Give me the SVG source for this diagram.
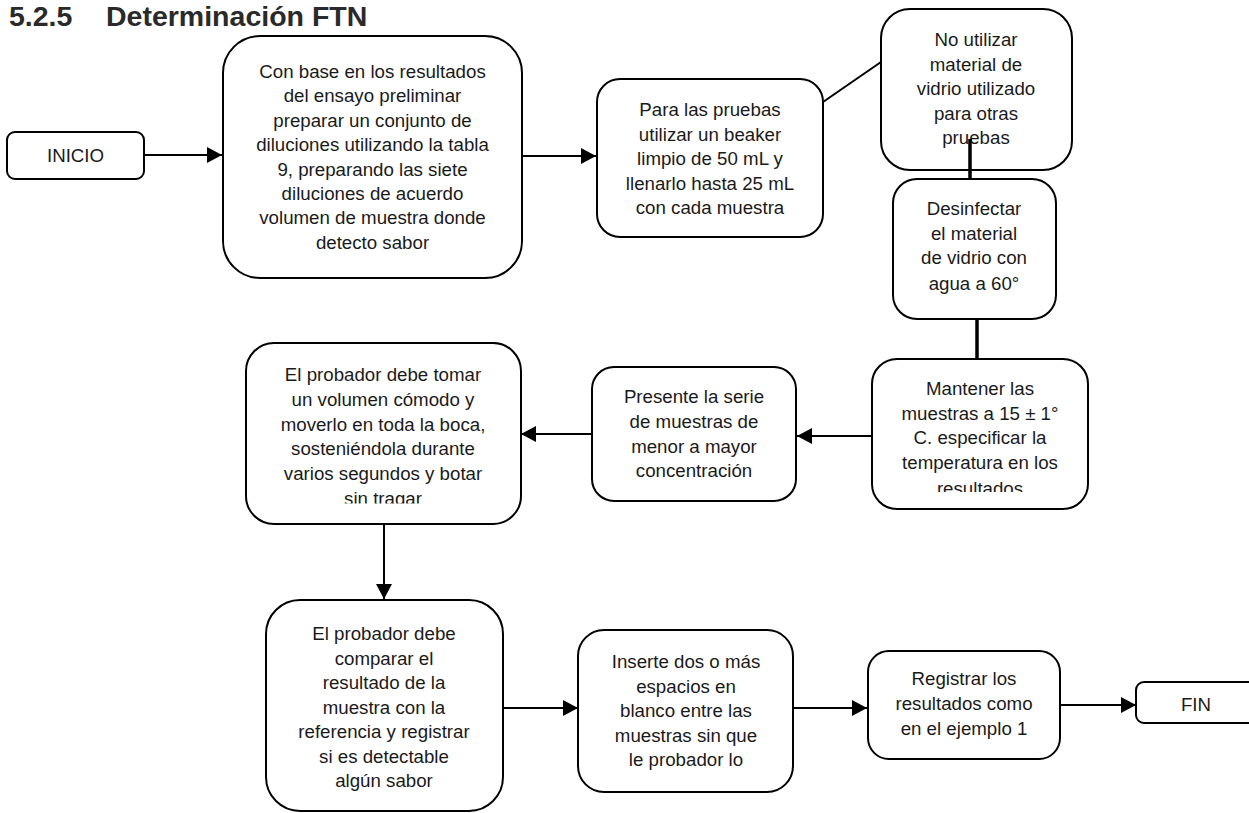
<svg xmlns="http://www.w3.org/2000/svg" width="1249" height="813" viewBox="0 0 1249 813">
<style>
.box{fill:#fff;stroke:#000;stroke-width:2}
.t{font-family:"Liberation Sans",Arial,sans-serif;font-size:18.7px;fill:#1a1a1a;text-anchor:middle}
.title{font-family:"Liberation Sans",Arial,sans-serif;font-size:28.5px;font-weight:bold;fill:#2a2a2a}
.c{stroke:#000;stroke-width:2;fill:none}
.ct{stroke:#000;stroke-width:3.5;fill:none}
</style>
<defs>
<marker id="ah" markerUnits="userSpaceOnUse" markerWidth="16" markerHeight="16" refX="15" refY="8" orient="auto">
<path d="M0,0 L15,8 L0,16 z" fill="#000"/>
</marker>
<clipPath id="clipM"><rect x="860" y="350" width="240" height="142"/></clipPath>
<clipPath id="clipP"><rect x="240" y="340" width="290" height="163.5"/></clipPath>
</defs>
<rect width="1249" height="813" fill="#fff"/>
<g id="title">
<text class="title" x="9" y="26">5.2.5</text>
<text class="title" x="106" y="26">Determinación FTN</text>
</g>
<g id="inicio">
<rect class="box" x="7" y="132" width="137" height="47" rx="8"/>
<text class="t" x="75.5" y="162">INICIO</text>
</g>
<g id="preparar">
<rect class="box" x="223" y="36" width="299" height="242" rx="37"/>
<text class="t" x="372.5" y="78">Con base en los resultados</text>
<text class="t" x="372.5" y="102.4">del ensayo preliminar</text>
<text class="t" x="372.5" y="126.8">preparar un conjunto de</text>
<text class="t" x="372.5" y="151.2">diluciones utilizando la tabla</text>
<text class="t" x="372.5" y="175.6">9, preparando las siete</text>
<text class="t" x="372.5" y="200">diluciones de acuerdo</text>
<text class="t" x="372.5" y="224.4">volumen de muestra donde</text>
<text class="t" x="372.5" y="248.8">detecto sabor</text>
</g>
<g id="beaker">
<rect class="box" x="597" y="79" width="226" height="158" rx="23"/>
<text class="t" x="710" y="116">Para las pruebas</text>
<text class="t" x="710" y="140.5">utilizar un beaker</text>
<text class="t" x="710" y="165">limpio de 50 mL y</text>
<text class="t" x="710" y="189.5">llenarlo hasta 25 mL</text>
<text class="t" x="710" y="214">con cada muestra</text>
</g>
<g id="no-utilizar">
<rect class="box" x="881" y="9" width="191" height="161" rx="29"/>
<text class="t" x="976" y="46">No utilizar</text>
<text class="t" x="976" y="70.5">material de</text>
<text class="t" x="976" y="95">vidrio utilizado</text>
<text class="t" x="976" y="119.5">para otras</text>
<text class="t" x="976" y="144">pruebas</text>
</g>
<g id="desinfectar">
<rect class="box" x="893" y="179" width="163" height="140" rx="24"/>
<text class="t" x="974" y="215">Desinfectar</text>
<text class="t" x="974" y="239.5">el material</text>
<text class="t" x="974" y="264">de vidrio con</text>
<text class="t" x="974" y="289.5">agua a 60°</text>
</g>
<g id="mantener">
<rect class="box" x="872" y="359" width="216" height="150" rx="25"/>
<text class="t" x="980" y="395">Mantener las</text>
<text class="t" x="980" y="419.5">muestras a 15 ± 1°</text>
<text class="t" x="980" y="444">C. especificar la</text>
<text class="t" x="980" y="469">temperatura en los</text>
<text class="t" x="980" y="494.5" clip-path="url(#clipM)">resultados</text>
</g>
<g id="presente">
<rect class="box" x="592" y="367" width="204" height="134" rx="22"/>
<text class="t" x="694" y="403">Presente la serie</text>
<text class="t" x="694" y="427.5">de muestras de</text>
<text class="t" x="694" y="452.5">menor a mayor</text>
<text class="t" x="694" y="477">concentración</text>
</g>
<g id="tomar">
<rect class="box" x="246" y="343" width="275" height="181" rx="28"/>
<text class="t" x="383" y="381">El probador debe tomar</text>
<text class="t" x="383" y="405.8">un volumen cómodo y</text>
<text class="t" x="383" y="430.6">moverlo en toda la boca,</text>
<text class="t" x="383" y="455.4">sosteniéndola durante</text>
<text class="t" x="383" y="480.2">varios segundos y botar</text>
<text class="t" x="383" y="505" clip-path="url(#clipP)">sin tragar</text>
</g>
<g id="comparar">
<rect class="box" x="266" y="600" width="237" height="211" rx="34"/>
<text class="t" x="384" y="640">El probador debe</text>
<text class="t" x="384" y="664.5">comparar el</text>
<text class="t" x="384" y="689">resultado de la</text>
<text class="t" x="384" y="713.5">muestra con la</text>
<text class="t" x="384" y="738">referencia y registrar</text>
<text class="t" x="384" y="762.5">si es detectable</text>
<text class="t" x="384" y="787">algún sabor</text>
</g>
<g id="inserte">
<rect class="box" x="578" y="630" width="215" height="162" rx="26"/>
<text class="t" x="686" y="668">Inserte dos o más</text>
<text class="t" x="686" y="692.5">espacios en</text>
<text class="t" x="686" y="717">blanco entre las</text>
<text class="t" x="686" y="741.5">muestras sin que</text>
<text class="t" x="686" y="766">le probador lo</text>
</g>
<g id="registrar">
<rect class="box" x="868" y="651" width="192" height="108" rx="21"/>
<text class="t" x="964" y="685">Registrar los</text>
<text class="t" x="964" y="710">resultados como</text>
<text class="t" x="964" y="735">en el ejemplo 1</text>
</g>
<g id="fin">
<rect class="box" x="1136" y="682" width="120" height="41" rx="8"/>
<text class="t" x="1196" y="711">FIN</text>
</g>
<g id="connectors">
<line class="c" x1="144" y1="155" x2="222" y2="155" marker-end="url(#ah)"/>
<line class="c" x1="522" y1="156" x2="596" y2="156" marker-end="url(#ah)"/>
<line class="c" x1="823" y1="102" x2="881" y2="62"/>
<line class="ct" x1="970" y1="139" x2="970" y2="179"/>
<line class="ct" x1="977" y1="319" x2="977" y2="359"/>
<line class="c" x1="872" y1="436" x2="797" y2="436" marker-end="url(#ah)"/>
<line class="c" x1="592" y1="434" x2="521" y2="434" marker-end="url(#ah)"/>
<line class="c" x1="384" y1="524" x2="384" y2="599" marker-end="url(#ah)"/>
<line class="c" x1="503" y1="708" x2="578" y2="708" marker-end="url(#ah)"/>
<line class="c" x1="793" y1="708" x2="867" y2="708" marker-end="url(#ah)"/>
<line class="c" x1="1060" y1="705" x2="1136" y2="705" marker-end="url(#ah)"/>
</g>
</svg>
